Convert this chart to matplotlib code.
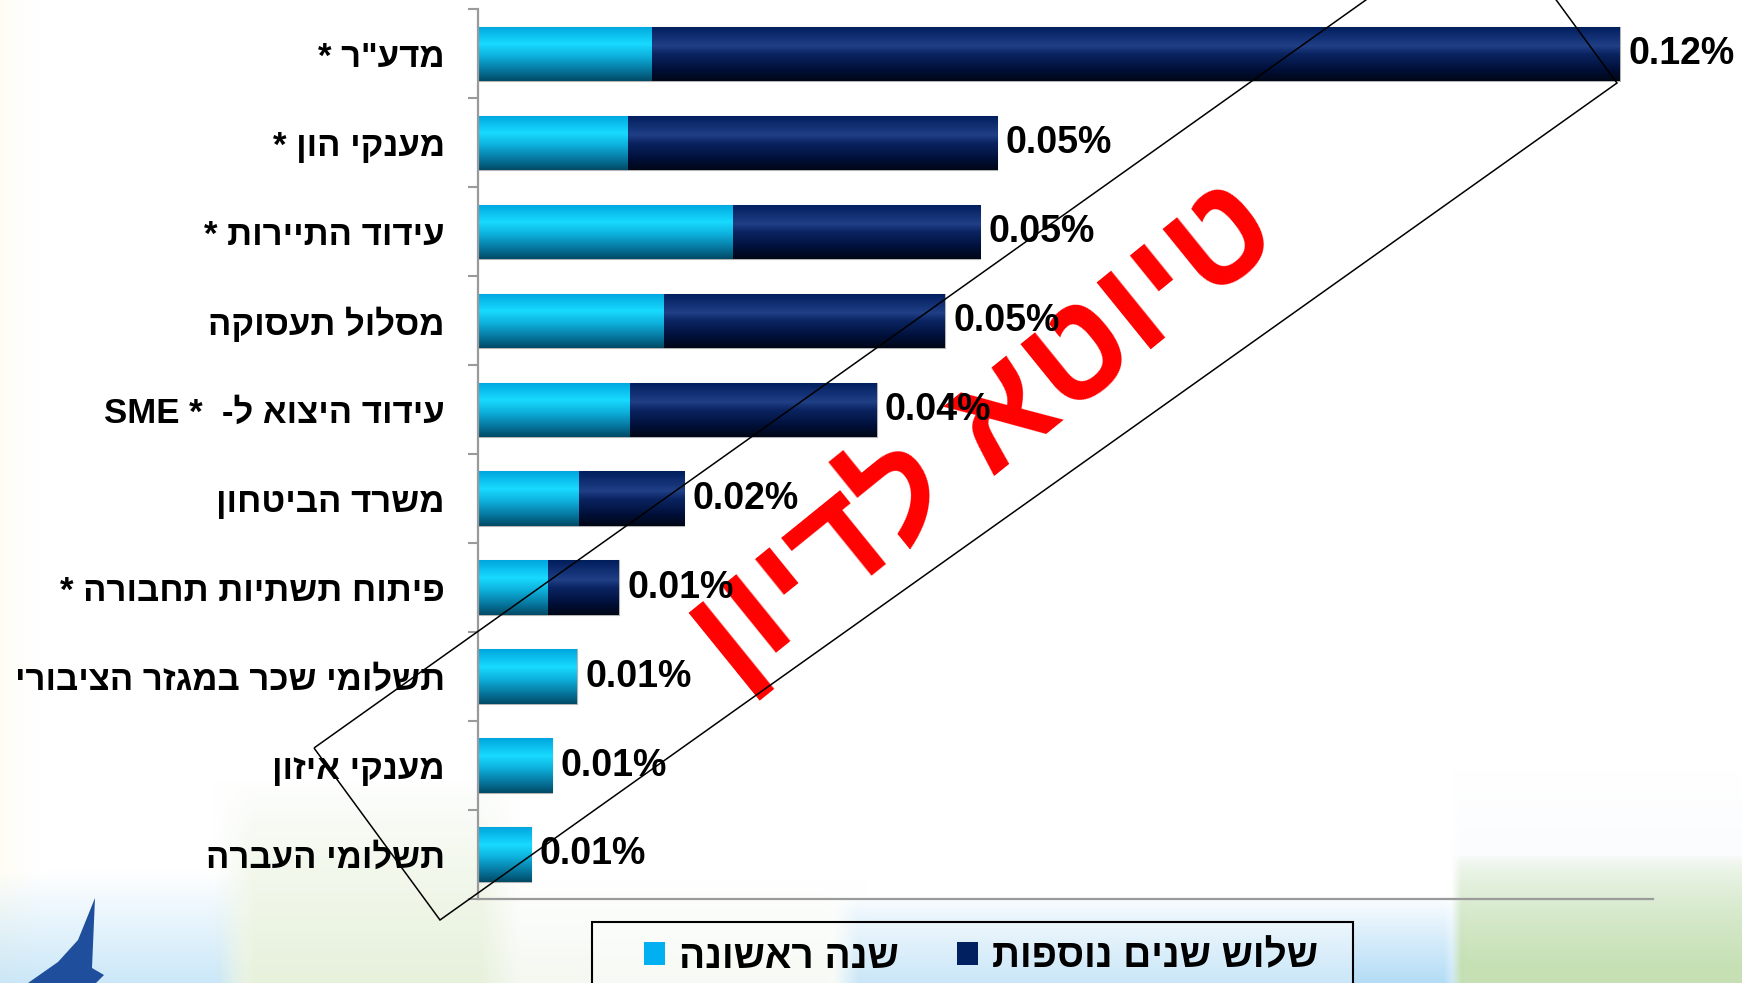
import re
import numpy as np
import matplotlib
matplotlib.use("Agg")
import matplotlib.pyplot as plt
from matplotlib.colors import LinearSegmentedColormap
from matplotlib.patches import Polygon, Patch, Rectangle
from matplotlib.ticker import FixedLocator

# --- data ---
categories = ['מדע"ר *', 'מענקי הון *', 'עידוד התיירות *', 'מסלול תעסוקה',
              'עידוד היצוא ל-  * SME', 'משרד הביטחון', 'פיתוח תשתיות תחבורה *',
              'תשלומי שכר במגזר הציבורי', 'מענקי איזון', 'תשלומי העברה']
first_year = [0.0183, 0.0158, 0.0268, 0.0196, 0.0160, 0.0106, 0.0074, 0.0104, 0.0078, 0.0056]
three_more_years = [0.1017, 0.0388, 0.0260, 0.0295, 0.0259, 0.0111, 0.0074, 0.0, 0.0, 0.0]
value_labels = ['0.12%', '0.05%', '0.05%', '0.05%', '0.04%', '0.02%', '0.01%', '0.01%', '0.01%', '0.01%']
series_names = ['שנה ראשונה', 'שלוש שנים נוספות']
watermark = 'טיוטא לדיון'

LIGHT = '#00b0f0'
DARK = '#002060'
FONT = ['Liberation Sans', 'DejaVu Sans']
plt.rcParams['font.family'] = FONT


def rtl(s):
    """matplotlib has no bidi: reverse the text, keep latin/digit runs LTR."""
    r = s[::-1]
    return re.sub(r'[A-Za-z0-9.%]+', lambda m: m.group(0)[::-1], r)


W, H = 1742, 983
fig = plt.figure(figsize=(W / 100, H / 100), dpi=100)

# --- slide background ---
bg = fig.add_axes([0, 0, 1, 1], zorder=-10)
yy, xx = np.mgrid[0:H, 0:W].astype(float)
img = np.ones((H, W, 3))


def tint(img, w, color):
    c = np.array(matplotlib.colors.to_rgb(color))
    return img * (1 - w[..., None]) + w[..., None] * c


def band(v, a, b, soft):
    # 1 inside [a, b], soft ramps at the edges
    return np.clip((v - a) / soft + 0.5, 0, 1) * np.clip((b - v) / soft + 0.5, 0, 1)


img = tint(img, np.clip(1 - xx / 40, 0, 1) * 0.25, '#fff6d8')
# blue, bottom left
img = tint(img, band(xx, -50, 233, 30) * np.clip((yy - 870) / 113, 0, 1) * 0.6, '#a8d8f5')
# pale green column
img = tint(img, band(xx, 233, 500, 40) * np.clip((yy - 780) / 203, 0, 1) ** 0.8 * 0.45, '#c9e0b0')
# faint haze in the middle
img = tint(img, band(xx, 500, 845, 40) * np.clip((yy - 880) / 103, 0, 1) * 0.25, '#cfe3c4')
# blue under the legend
img = tint(img, band(xx, 845, 1455, 25) * np.clip((yy - 895) / 88, 0, 1) ** 0.9 * 0.85, '#a6d6f4')
# green, bottom right
img = tint(img, band(xx, 1455, 1800, 10) * np.clip((yy - 770) / 90, 0, 1) * 0.1, '#d0e0f0')
img = tint(img, band(xx, 1455, 1800, 10) * np.clip((yy - 855) / 110, 0, 1) ** 0.6 * 0.85, '#bddca8')
bg.imshow(img, extent=(0, W, 0, H), origin='upper', aspect='auto')
bg.set_xlim(0, W)
bg.set_ylim(0, H)
bg.axis('off')

# logo sail, bottom left
logo = [(95, 898), (92, 968), (104, 975), (96, 983), (28, 983), (58, 962), (78, 940)]
bg.add_patch(Polygon([(x, H - y) for x, y in logo], closed=True, facecolor='#1f4e9c',
                     edgecolor='none'))

# --- chart ---
ax = fig.add_axes([0.2744, 0.0855, 0.6745, 0.905])
ax.set_facecolor('none')
y = np.arange(len(categories))
bar_h = 0.61

b1 = ax.barh(y, first_year, height=bar_h, color=LIGHT, edgecolor='#b4b4b4',
             linewidth=0.8, zorder=2)
b2 = ax.barh(y, three_more_years, left=first_year, height=bar_h, color=DARK,
             edgecolor='#b4b4b4', linewidth=0.8, zorder=2)

light_cmap = LinearSegmentedColormap.from_list(
    'light', [(0, '#00a6de'), (0.32, '#18daff'), (0.55, '#0db0dc'),
              (0.82, '#06739a'), (1, '#024a66')])
dark_cmap = LinearSegmentedColormap.from_list(
    'dark', [(0, '#001d5c'), (0.36, '#203f86'), (0.5, '#0b2563'),
             (0.8, '#000f38'), (1, '#000716')])
grad = np.linspace(0, 1, 128).reshape(-1, 1)
for bars, cmap in ((b1, light_cmap), (b2, dark_cmap)):
    for p in bars:
        if p.get_width() <= 0:
            continue
        x0, y0 = p.get_x(), p.get_y()
        x1, y1 = x0 + p.get_width(), y0 + p.get_height()
        im = ax.imshow(grad, cmap=cmap, extent=(x0, x1, y1, y0), origin='upper',
                       aspect='auto', zorder=2.1)
        im.set_clip_path(p)

totals = np.array(first_year) + np.array(three_more_years)
for yi, tot, lab in zip(y, totals, value_labels):
    ax.annotate(lab, (tot, yi), xytext=(6, 0), textcoords='offset points',
                ha='left', va='center', fontsize=27, fontweight='bold',
                color='black', zorder=6)

ax.set_xlim(0, 0.1235)
ax.set_ylim(len(categories) - 0.5, -0.5)
ax.set_yticks(y)
ax.set_yticklabels([rtl(c) for c in categories], fontsize=25, fontweight='bold')
ax.yaxis.set_minor_locator(FixedLocator(np.arange(-0.5, len(categories), 1.0)))
ax.tick_params(axis='y', which='major', length=0, pad=24)
ax.tick_params(axis='y', which='minor', length=7, width=1.5, color='#9a9a9a',
               direction='out')
ax.set_xticks([])
for s in ('top', 'right'):
    ax.spines[s].set_visible(False)
for s in ('left', 'bottom'):
    ax.spines[s].set_color('#9a9a9a')
    ax.spines[s].set_linewidth(1.6)

# --- draft watermark (figure pixel frame) ---
frame = [(314, 748), (440, 920), (1617, 83), (1491, -89)]
fig.patches.append(Polygon([(x / W, 1 - y / H) for x, y in frame], closed=True,
                           fill=False, edgecolor='black', linewidth=1.1,
                           transform=fig.transFigure, zorder=1))
ax.text(0.5643, 0.56, rtl(watermark), transform=fig.transFigure, rotation=39,
        rotation_mode='anchor', ha='center', va='center', fontsize=102,
        fontweight='bold', color='#ff0000', zorder=4, clip_on=False)

# --- legend (box drawn separately, it runs off the bottom edge) ---
fig.patches.append(Rectangle((592 / W, -0.02), 761 / W, 1 - 922 / H + 0.02,
                             transform=fig.transFigure, facecolor=(1, 1, 1, 0.3),
                             edgecolor='black', linewidth=1.5, zorder=1))
handles = [Patch(facecolor=LIGHT, edgecolor='none'), Patch(facecolor=DARK, edgecolor='none')]
leg = fig.legend(handles, [rtl(n) for n in series_names], ncol=2,
                 loc='upper center', bbox_to_anchor=(981 / W, 1 - 922 / H),
                 prop={'family': FONT, 'weight': 'bold', 'size': 28},
                 handlelength=0.55, handleheight=0.55, handletextpad=0.35,
                 columnspacing=1.5, borderpad=0.45, borderaxespad=0, frameon=False)

fig.savefig('out.png', dpi=100)
